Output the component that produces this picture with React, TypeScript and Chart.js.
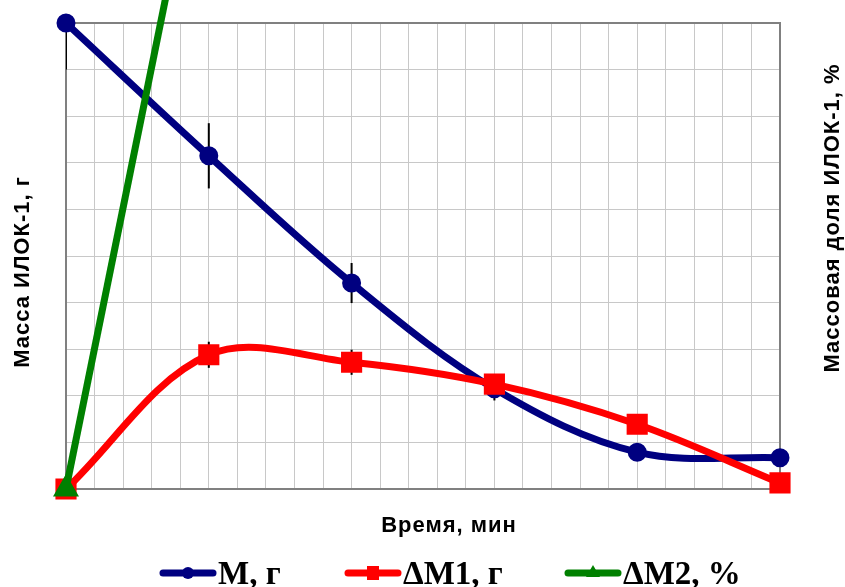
import React, { useEffect, useRef } from 'react';
import { Chart, registerables } from 'chart.js';

Chart.register(...registerables);

// ---- data ----
const timeMin = [0, 5, 10, 15, 20, 25];
const massM = [10.0, 7.15, 4.42, 2.15, 0.79, 0.67];
const massErr = [1.0, 0.7, 0.43, 0.25, 0, 0];
const deltaM1 = [0, 2.88, 2.72, 2.25, 1.39, 0.13];
const deltaM1Err = [0, 0.28, 0.27, 0.2, 0, 0];
const deltaM2 = [0, 15.1];
const seriesLabels = ['M, г', 'ΔM1, г', 'ΔM2, %'];
const seriesColors = ['#000080', '#FF0000', '#008000'];
const xTitle = 'Время, мин';
const yTitle = 'Масса ИЛОК-1, г';
const y1Title = 'Массовая доля ИЛОК-1, %';

const toPoints = (vals: number[]) => vals.map((v, i) => ({ x: timeMin[i], y: v }));

const legendStarts = [160, 345, 565];

const framePlugin = {
  id: 'frameAndErrors',
  beforeDatasetsDraw(chart: any) {
    const { ctx, chartArea } = chart;
    ctx.save();
    ctx.strokeStyle = '#808080';
    ctx.lineWidth = 2;
    ctx.strokeRect(chartArea.left, chartArea.top, chartArea.right - chartArea.left, chartArea.bottom - chartArea.top);
    ctx.restore();

    // error bars, clipped to the plot area
    ctx.save();
    ctx.beginPath();
    ctx.rect(chartArea.left, chartArea.top, chartArea.right - chartArea.left, chartArea.bottom - chartArea.top);
    ctx.clip();
    ctx.strokeStyle = '#000000';
    ctx.lineWidth = 2;
    chart.data.datasets.forEach((ds: any, di: number) => {
      if (!ds.errors) return;
      const meta = chart.getDatasetMeta(di);
      const yScale = chart.scales[meta.yAxisID];
      ds.data.forEach((p: any, i: number) => {
        const e = ds.errors[i];
        if (!e) return;
        const el = meta.data[i];
        ctx.beginPath();
        ctx.moveTo(el.x, yScale.getPixelForValue(p.y + e));
        ctx.lineTo(el.x, yScale.getPixelForValue(p.y - e));
        ctx.stroke();
      });
    });
    ctx.restore();
  },
  afterDraw(chart: any) {
    const { ctx, chartArea } = chart;
    ctx.save();
    ctx.fillStyle = '#000000';
    ctx.font = 'bold 22px "Liberation Sans", Arial, sans-serif';
    try { (ctx as any).letterSpacing = '1px'; } catch (e) {}
    ctx.textAlign = 'center';
    ctx.textBaseline = 'middle';
    ctx.fillText(xTitle, (chartArea.left + chartArea.right) / 2 + 26, chartArea.bottom + 37);

    ctx.save();
    ctx.translate(23, (chartArea.top + chartArea.bottom) / 2 + 16);
    ctx.rotate(-Math.PI / 2);
    ctx.fillText(yTitle, 0, 0);
    ctx.restore();

    ctx.save();
    ctx.translate(833, (chartArea.top + chartArea.bottom) / 2 - 38);
    ctx.rotate(-Math.PI / 2);
    ctx.fillText(y1Title, 0, 0);
    ctx.restore();
    try { (ctx as any).letterSpacing = '0px'; } catch (e) {}

    // legend
    ctx.font = 'bold 33px "Liberation Serif", "Times New Roman", serif';
    ctx.textAlign = 'left';
    const lineLen = 56;
    const gapText = 2;
    const y = 573;
    chart.data.datasets.forEach((ds: any, i: number) => {
      const x = legendStarts[i];
      ctx.strokeStyle = ds.borderColor;
      ctx.fillStyle = ds.borderColor;
      ctx.lineWidth = 7;
      ctx.lineCap = 'round';
      ctx.beginPath();
      ctx.moveTo(x + 3, y);
      ctx.lineTo(x + lineLen - 3, y);
      ctx.stroke();
      const cx = x + lineLen / 2;
      ctx.beginPath();
      if (ds.pointStyle === 'circle') {
        ctx.arc(cx, y, 6, 0, Math.PI * 2);
        ctx.fill();
      } else if (ds.pointStyle === 'rect') {
        ctx.fillRect(cx - 6, y - 7, 12, 14);
      } else {
        ctx.moveTo(cx, y - 8);
        ctx.lineTo(cx + 7, y + 4);
        ctx.lineTo(cx - 7, y + 4);
        ctx.closePath();
        ctx.fill();
      }
      ctx.fillStyle = '#000000';
      ctx.textBaseline = 'alphabetic';
      ctx.fillText(ds.label, x + lineLen + gapText, y + 11);
    });
    ctx.restore();
  },
};

export default function App() {
  const ref = useRef<HTMLCanvasElement | null>(null);
  useEffect(() => {
    document.body.style.margin = '0';
    if (!ref.current) return;
    const chart = new Chart(ref.current, {
      type: 'line',
      data: {
        datasets: [
          {
            label: seriesLabels[0],
            data: toPoints(massM),
            errors: massErr,
            borderColor: seriesColors[0],
            backgroundColor: seriesColors[0],
            pointBackgroundColor: seriesColors[0],
            pointBorderColor: seriesColors[0],
            borderWidth: 7,
            pointStyle: 'circle',
            pointRadius: 6,
            tension: 0.35,
            clip: false,
            yAxisID: 'y',
            order: 2,
          } as any,
          {
            label: seriesLabels[1],
            data: toPoints(deltaM1),
            errors: deltaM1Err,
            borderColor: seriesColors[1],
            backgroundColor: seriesColors[1],
            pointBackgroundColor: seriesColors[1],
            pointBorderColor: seriesColors[1],
            borderWidth: 7,
            pointStyle: 'rect',
            pointRadius: 10,
            tension: 0.35,
            clip: false,
            yAxisID: 'y',
            order: 1,
          } as any,
          {
            label: seriesLabels[2],
            data: toPoints(deltaM2),
            borderColor: seriesColors[2],
            backgroundColor: seriesColors[2],
            pointBackgroundColor: seriesColors[2],
            pointBorderColor: seriesColors[2],
            borderWidth: 7,
            pointStyle: 'triangle',
            pointRadius: 8,
            tension: 0,
            clip: false,
            yAxisID: 'y1',
            order: 0,
          } as any,
        ],
      },
      options: {
        responsive: false,
        animation: false,
        devicePixelRatio: 1,
        layout: { padding: { left: 66, right: 65, top: 23, bottom: 98 } },
        plugins: { legend: { display: false }, tooltip: { enabled: false } },
        scales: {
          x: {
            type: 'linear',
            min: 0,
            max: 25,
            ticks: { stepSize: 1, display: false },
            grid: { color: '#c8c8c8', lineWidth: 1, drawTicks: false },
            border: { display: false },
          },
          y: {
            min: 0,
            max: 10,
            ticks: { stepSize: 1, display: false },
            grid: { color: '#c8c8c8', lineWidth: 1, drawTicks: false },
            border: { display: false },
          },
          y1: {
            position: 'right',
            min: 0,
            max: 10,
            display: false,
          },
        },
      },
      plugins: [framePlugin],
    } as any);
    return () => chart.destroy();
  }, []);
  return (
    <div style={{ width: 845, height: 587 }}>
      <canvas ref={ref} width={845} height={587} style={{ display: 'block' }} />
    </div>
  );
}
